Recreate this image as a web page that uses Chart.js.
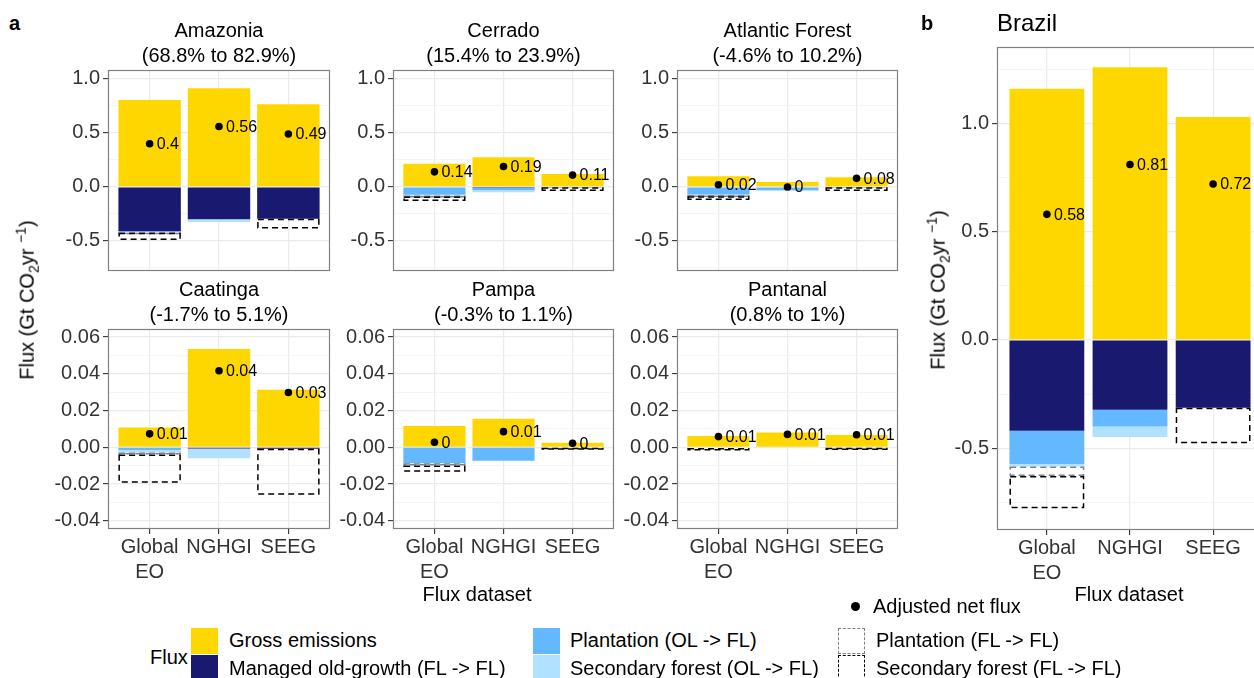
<!DOCTYPE html>
<html>
<head>
<meta charset="utf-8">
<script src="https://cdn.jsdelivr.net/npm/chart.js@4.4.0/dist/chart.umd.min.js"></script>
<style>
  body { margin: 0; width: 1254px; height: 678px; overflow: hidden; background: #fff; position: relative;
         font-family: 'Liberation Sans', Arial, sans-serif; color: #000; }
  canvas { position: absolute; }
  .t { position: absolute; white-space: nowrap; font-size: 20px; line-height: 1; z-index: 2; }
  .ttl { position: absolute; text-align: center; font-size: 20px; line-height: 25px; white-space: nowrap; z-index: 2; }
  .ytitle { transform: translate(-50%, -50%) rotate(-90deg); }
  .ytitle sub, .ytitle sup { font-size: 14px; }
  .key { position: absolute; width: 27px; height: 26px; z-index: 2; box-sizing: border-box; }
  .mid { transform: translateY(-50%); }
</style>
</head>
<body>
<div class="t" style="left:9px;top:13px;font-weight:bold">a</div>
<div class="t" style="left:921px;top:13px;font-weight:bold">b</div>
<div class="t" style="left:997px;top:11px;font-size:24px">Brazil</div>

<div class="t ytitle" style="left:27px;top:300px">Flux (Gt CO<sub>2</sub>yr <sup>&minus;1</sup>)</div>
<div class="t ytitle" style="left:938px;top:290px">Flux (Gt CO<sub>2</sub>yr <sup>&minus;1</sup>)</div>
<div class="t mid" style="left:477px;top:594px;transform:translate(-50%,-50%)">Flux dataset</div>
<div class="t mid" style="left:1129px;top:594px;transform:translate(-50%,-50%)">Flux dataset</div>

<!-- legend -->
<div style="position:absolute;left:851px;top:602px;width:9px;height:9px;border-radius:50%;background:#000"></div>
<div class="t mid" style="left:873px;top:606px">Adjusted net flux</div>
<div class="t mid" style="left:150px;top:657px">Flux</div>
<div class="key" style="left:191px;top:628px;background:#FFD700"></div>
<div class="key" style="left:191px;top:655px;background:#191970"></div>
<div class="key" style="left:533px;top:628px;background:#63B8FF"></div>
<div class="key" style="left:533px;top:655px;background:#B0E2FF"></div>
<div class="key" style="left:838px;top:628px;border:1.5px dashed #808080"></div>
<div class="key" style="left:838px;top:655px;border:1.5px dashed #000"></div>
<div class="t mid" style="left:229px;top:640px">Gross emissions</div>
<div class="t mid" style="left:229px;top:668px">Managed old-growth (FL -&gt; FL)</div>
<div class="t mid" style="left:570px;top:640px">Plantation (OL -&gt; FL)</div>
<div class="t mid" style="left:570px;top:668px">Secondary forest (OL -&gt; FL)</div>
<div class="t mid" style="left:876px;top:640px">Plantation (FL -&gt; FL)</div>
<div class="t mid" style="left:876px;top:668px">Secondary forest (FL -&gt; FL)</div>

<script>
// flux datasets (x categories) and their tick labels
const fluxDatasets = ['Global EO', 'NGHGI', 'SEEG'];
const tickNames = [['Global', 'EO'], 'NGHGI', 'SEEG'];

// panels: six biomes + Brazil total
const regions = ['Amazonia', 'Cerrado', 'Atlantic Forest', 'Caatinga', 'Pampa', 'Pantanal', 'Brazil'];
const shares = ['(68.8% to 82.9%)', '(15.4% to 23.9%)', '(-4.6% to 10.2%)', '(-1.7% to 5.1%)', '(-0.3% to 1.1%)', '(0.8% to 1%)', ''];

// Gt CO2 / yr, one row per region, columns = Global EO, NGHGI, SEEG
const grossEmissions   = [[0.805, 0.915, 0.765], [0.215, 0.275, 0.12], [0.10, 0.045, 0.09], [0.0107, 0.0535, 0.0313], [0.0116, 0.0155, 0.0025], [0.0062, 0.008, 0.0067], [1.16, 1.26, 1.03]];
const managedOldGrowth = [[-0.41, -0.30, -0.295], [0, -0.01, -0.003], [0, 0, -0.003], [0, -0.0006, -0.0008], [0, 0, 0], [0, 0, 0], [-0.42, -0.323, -0.313]];
const plantationOL     = [[-0.004, 0, 0], [-0.072, -0.02, 0], [-0.07, -0.03, 0], [-0.0015, 0, 0], [-0.0087, -0.0073, 0], [0, -0.0003, 0], [-0.153, -0.077, 0]];
const secondaryOL      = [[-0.006, -0.025, 0], [-0.006, -0.02, 0], [-0.005, -0.005, 0], [-0.0014, -0.0054, 0], [0, 0, 0], [0, 0, 0], [-0.012, -0.048, 0]];
const plantationFL     = [[-0.005, 0, 0], [-0.01, 0, 0], [-0.01, 0, 0], [-0.001, 0, 0], [-0.0012, 0, 0], [-0.0004, 0, 0], [-0.043, 0, 0]];
const secondaryFL      = [[-0.065, 0, -0.09], [-0.042, 0, -0.035], [-0.035, 0, -0.035], [-0.0154, 0, -0.025], [-0.0034, 0, -0.0006], [-0.0014, 0, -0.0015], [-0.149, 0, -0.164]];
const adjustedNet      = [[0.40, 0.56, 0.49], [0.14, 0.19, 0.11], [0.02, 0.0, 0.08], [0.0073, 0.0417, 0.0298], [0.0027, 0.0085, 0.0022], [0.0058, 0.0070, 0.0068], [0.58, 0.81, 0.72]];

// y ticks (major + minor gridlines)
const yTicksTop    = [-0.75, -0.5, -0.25, 0, 0.25, 0.5, 0.75, 1.0];
const yTicksBottom = [-0.04, -0.03, -0.02, -0.01, 0, 0.01, 0.02, 0.03, 0.04, 0.05, 0.06];
const yTicksBrazil = [-0.75, -0.5, -0.25, 0, 0.25, 0.5, 0.75, 1.0, 1.25];

Chart.defaults.font.family = "'Liberation Sans', Arial, sans-serif";
Chart.defaults.color = '#333';

const yTop = { min: -0.778, max: 1.083, ticks: yTicksTop, major: 0.5, dec: 1 };
const yBottom = { min: -0.0445, max: 0.0644, ticks: yTicksBottom, major: 0.02, dec: 2 };
const yBrazil = { min: -0.878, max: 1.353, ticks: yTicksBrazil, major: 0.5, dec: 1 };

const panels = [
  { left: 108, top: 70, w: 222, h: 201, axis: false, y: yTop },
  { left: 393, top: 70, w: 221, h: 201, axis: false, y: yTop },
  { left: 677, top: 70, w: 221, h: 201, axis: false, y: yTop },
  { left: 108, top: 329, w: 222, h: 200, axis: true, y: yBottom },
  { left: 393, top: 329, w: 221, h: 200, axis: true, y: yBottom },
  { left: 677, top: 329, w: 221, h: 200, axis: true, y: yBottom },
  { left: 997, top: 47, w: 266, h: 483, axis: true, y: yBrazil }
];

const layers = [
  { src: managedOldGrowth, label: 'Managed old-growth (FL -> FL)', color: '#191970' },
  { src: plantationOL, label: 'Plantation (OL -> FL)', color: '#63B8FF' },
  { src: secondaryOL, label: 'Secondary forest (OL -> FL)', color: '#B0E2FF' },
  { src: plantationFL, label: 'Plantation (FL -> FL)', dash: '#808080' },
  { src: secondaryFL, label: 'Secondary forest (FL -> FL)', dash: '#000000' }
];

const YW = 70, PAD = 18, XH = 62;

function fmt(v) { return String(Number(v.toFixed(2))); }
function isMajor(v, step) { return Math.abs(v / step - Math.round(v / step)) < 1e-6; }

const panelDecor = {
  id: 'panelDecor',
  afterDatasetsDraw(chart) {
    const ctx = chart.ctx;
    chart.data.datasets.forEach((ds, di) => {
      const meta = chart.getDatasetMeta(di);
      if (ds.dashColor) {
        meta.data.forEach(bar => {
          const { x, y, base, width } = bar.getProps(['x', 'y', 'base', 'width'], true);
          const hgt = Math.abs(base - y);
          if (hgt < 0.5) return;
          ctx.save();
          ctx.setLineDash([6, 4]);
          ctx.strokeStyle = ds.dashColor;
          ctx.lineWidth = 1.5;
          ctx.strokeRect(x - width / 2 + 0.75, Math.min(y, base) + 0.75, width - 1.5, Math.max(hgt - 1.5, 0.5));
          ctx.restore();
        });
      }
      if (ds.type === 'scatter') {
        ctx.save();
        ctx.fillStyle = '#000';
        ctx.font = "16px 'Liberation Sans', Arial, sans-serif";
        ctx.textBaseline = 'middle';
        meta.data.forEach((pt, k) => {
          ctx.fillText(fmt(ds.data[k].y), pt.x + 7, pt.y + 1);
        });
        ctx.restore();
      }
    });
    const a = chart.chartArea;
    ctx.save();
    ctx.strokeStyle = '#808080';
    ctx.lineWidth = 1.2;
    ctx.strokeRect(a.left + 0.5, a.top + 0.5, a.right - a.left - 1, a.bottom - a.top - 1);
    ctx.restore();
  }
};

panels.forEach((p, i) => {
  // title
  if (i < 6) {
    const d = document.createElement('div');
    d.className = 'ttl';
    d.style.left = p.left + 'px';
    d.style.width = p.w + 'px';
    d.style.top = (p.top - 52) + 'px';
    d.innerHTML = regions[i] + '<br>' + shares[i];
    document.body.appendChild(d);
  }

  const cv = document.createElement('canvas');
  const xh = p.axis ? XH : 0;
  const W = YW + p.w + PAD, H = PAD + p.h + xh + (p.axis ? 0 : PAD);
  cv.width = W; cv.height = H;
  cv.style.left = (p.left - YW) + 'px';
  cv.style.top = (p.top - PAD) + 'px';
  document.body.appendChild(cv);

  const xs = [1, 2, 3];
  const datasets = [];
  datasets.push({
    type: 'scatter', label: 'Adjusted net flux', order: 0,
    data: xs.map((x, j) => ({ x, y: adjustedNet[i][j] })),
    pointRadius: 3.8, backgroundColor: '#000', borderWidth: 0, pointHoverRadius: 3.8
  });
  datasets.push({
    type: 'bar', label: 'Gross emissions', order: 1, grouped: false,
    data: xs.map((x, j) => ({ x, y: [0, grossEmissions[i][j]] })),
    backgroundColor: '#FFD700', borderWidth: 0, barPercentage: 0.9, categoryPercentage: 1
  });
  const cum = [0, 0, 0];
  layers.forEach(L => {
    const data = xs.map((x, j) => {
      const start = cum[j];
      cum[j] = start + L.src[i][j];
      return { x, y: [start, cum[j]] };
    });
    datasets.push({
      type: 'bar', label: L.label, order: 1, grouped: false, data,
      backgroundColor: L.color || 'rgba(0,0,0,0)', borderWidth: 0,
      barPercentage: 0.9, categoryPercentage: 1, dashColor: L.dash
    });
  });

  new Chart(cv, {
    type: 'bar',
    data: { datasets },
    plugins: [panelDecor],
    options: {
      responsive: false,
      animation: false,
      layout: { padding: { left: 0, top: PAD, right: PAD, bottom: p.axis ? 0 : PAD } },
      plugins: { legend: { display: false }, tooltip: { enabled: false } },
      scales: {
        x: {
          type: 'linear', min: 0.4, max: 3.6, offset: false,
          afterBuildTicks: s => { s.ticks = xs.map(v => ({ value: v })); },
          afterFit: s => { s.height = xh; },
          border: { display: false },
          grid: { offset: false, color: '#ebebeb', lineWidth: 1.2, drawTicks: p.axis, tickLength: 5, tickColor: '#333', tickWidth: 1.1 },
          ticks: {
            display: p.axis, autoSkip: false, maxRotation: 0, padding: 1,
            font: { size: 20, lineHeight: 1.25 }, color: '#333',
            callback: v => tickNames[v - 1]
          }
        },
        y: {
          type: 'linear', min: p.y.min, max: p.y.max, stacked: false,
          afterBuildTicks: s => { s.ticks = p.y.ticks.map(v => ({ value: v })); },
          afterFit: s => { s.width = YW; },
          border: { display: false },
          grid: {
            color: c => isMajor(c.tick.value, p.y.major) ? '#ebebeb' : '#f3f3f3',
            lineWidth: c => isMajor(c.tick.value, p.y.major) ? 1.2 : 0.8,
            tickLength: 5, tickWidth: 1.1,
            tickColor: c => isMajor(c.tick.value, p.y.major) ? '#333' : 'rgba(0,0,0,0)'
          },
          ticks: {
            autoSkip: false, padding: 3, font: { size: 20 }, color: '#333',
            callback: v => isMajor(v, p.y.major) ? v.toFixed(p.y.dec) : ''
          }
        }
      }
    }
  });
});
</script>
</body>
</html>
